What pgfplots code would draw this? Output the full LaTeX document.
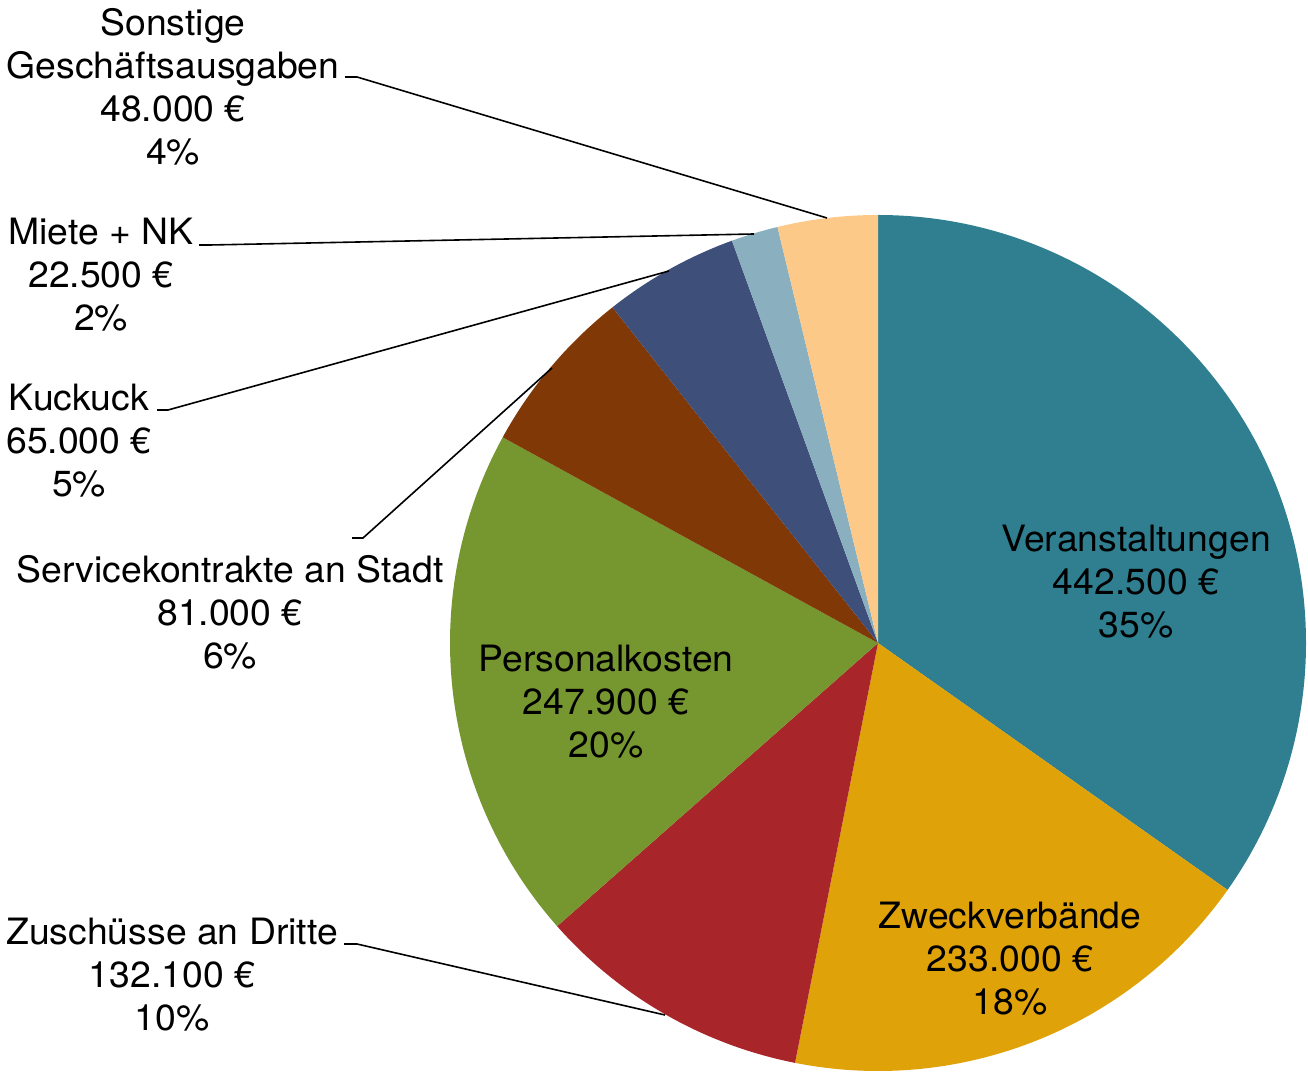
\documentclass[border=0pt]{standalone}
\usepackage{pgfplots}
\pgfplotsset{compat=1.18}
\usepackage{pgfplotstable}
\usepackage{xfp}
\usepackage{fontspec}
\setmainfont{TeX Gyre Heros}[FakeStretch=1.03]

\definecolor{c0}{HTML}{2F7F91}
\definecolor{c1}{HTML}{E0A209}
\definecolor{c2}{HTML}{A8252A}
\definecolor{c3}{HTML}{76962F}
\definecolor{c4}{HTML}{803807}
\definecolor{c5}{HTML}{3E4F7A}
\definecolor{c6}{HTML}{8AB0C0}
\definecolor{c7}{HTML}{FDC988}

\pgfplotstableread{
label value
Veranstaltungen 442500
Zweckverbaende 233000
Zuschuesse 132100
Personalkosten 247900
Servicekontrakte 81000
Kuckuck 65000
Miete 22500
Sonstige 48000
}\piedata

\def\cum{0}
\pgfplotsforeachungrouped \i in {0,...,7}{%
  \expandafter\xdef\csname s\i\endcsname{\cum}%
  \pgfplotstablegetelem{\i}{value}\of\piedata
  \xdef\cum{\fpeval{\cum+\pgfplotsretval}}%
  \expandafter\xdef\csname e\i\endcsname{\cum}%
}
\edef\total{\cum}
\pgfplotsforeachungrouped \i in {0,...,7}{%
  \expandafter\xdef\csname pa\i\endcsname{\fpeval{90-360*\csname s\i\endcsname/\total}}%
  \expandafter\xdef\csname pb\i\endcsname{\fpeval{90-360*\csname e\i\endcsname/\total}}%
}

\tikzset{
  lbl/.style={align=center, font=\fontsize{18.2}{21.58}\selectfont, inner sep=0pt, text=black},
  lead/.style={draw=black, line width=0.8bp},
}

\begin{document}
\begin{tikzpicture}
\useasboundingbox (0,0) rectangle (654bp,537.5bp);
\begin{axis}[
  at={(0,0)}, anchor=south west,
  width=654bp, height=537.5bp, scale only axis,
  xmin=0, xmax=1308, ymin=-1075, ymax=0,
  hide axis, clip=false,
]
\pgfplotsinvokeforeach{0,...,7}{%
  \fill[c#1] (axis cs:878,-643) -- ++(\csname pa#1\endcsname:214bp)
    arc[start angle=\csname pa#1\endcsname, end angle=\csname pb#1\endcsname, radius=214bp] -- cycle;
}
% inner labels
\node[lbl] at (axis cs:1136,-582) {Veranstaltungen\\442.500 €\\35\%};
\node[lbl] at (axis cs:1010,-959) {Zweckverbände\\233.000 €\\18\%};
\node[lbl] at (axis cs:606,-702) {Personalkosten\\247.900 €\\20\%};
% outer labels
\node[lbl] at (axis cs:173,-86.5) {Sonstige\\Geschäftsausgaben\\48.000 €\\4\%};
\node[lbl] at (axis cs:101,-275) {Miete + NK\\22.500 €\\2\%};
\node[lbl] at (axis cs:79,-441) {Kuckuck\\65.000 €\\5\%};
\node[lbl] at (axis cs:230,-612) {Servicekontrakte an Stadt\\81.000 €\\6\%};
\node[lbl] at (axis cs:172,-975) {Zuschüsse an Dritte\\132.100 €\\10\%};
% leader lines
\draw[lead] (axis cs:345,-77) -- (axis cs:357,-77) -- (axis cs:827,-218);
\draw[lead] (axis cs:199,-245) -- (axis cs:210,-245) -- (axis cs:754,-234);
\draw[lead] (axis cs:157,-410) -- (axis cs:168,-410) -- (axis cs:669,-271);
\draw[lead] (axis cs:352,-538) -- (axis cs:363,-538) -- (axis cs:552,-368);
\draw[lead] (axis cs:344,-944) -- (axis cs:357,-944) -- (axis cs:665,-1015);
\end{axis}
\end{tikzpicture}
\end{document}
